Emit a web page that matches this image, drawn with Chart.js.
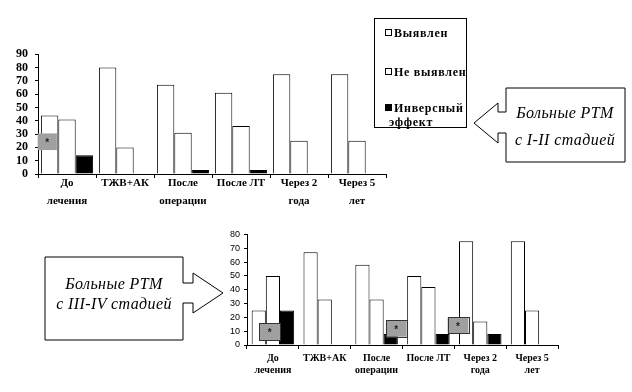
<!DOCTYPE html>
<html>
<head>
<meta charset="utf-8">
<script src="https://cdn.jsdelivr.net/npm/chart.js@4"></script>
<style>
  body { margin: 0; background: #fff; }
  #page { position: relative; width: 632px; height: 392px; overflow: hidden; background: #fff; }
  canvas { position: absolute; }
  #legend { position: absolute; left: 374px; top: 18px; width: 91px; height: 108px; border: 1px solid #000;
            font-family: "Liberation Serif", serif; font-weight: bold; font-size: 12px; letter-spacing: 0.7px; color: #000; }
  #legend .it { position: absolute; left: 10px; white-space: nowrap; line-height: 14px; }
  #legend .sw { display: inline-block; width: 5px; height: 5px; border: 1px solid #000; margin-right: 2px; vertical-align: 1px; }
  svg { position: absolute; left: 0; top: 0; }
</style>
</head>
<body>
<div id="page">
  <canvas id="topChart" width="392" height="172" style="left:0;top:40px"></canvas>
  <canvas id="bottomChart" width="350" height="155" style="left:215px;top:225px"></canvas>

  <div id="legend">
    <div class="it" style="top:7px"><span class="sw" style="background:#fff"></span>Выявлен</div>
    <div class="it" style="top:46px"><span class="sw" style="background:#fff"></span>Не выявлен</div>
    <div class="it" style="top:82px"><span class="sw" style="background:#000"></span>Инверсный</div>
    <div class="it" style="top:96px;left:14px">эффект</div>
  </div>

  <svg width="632" height="392" font-family="Liberation Serif, serif" font-style="italic" font-size="16" letter-spacing="0.4">
    <path d="M506,88 L625,88 L625,162 L506,162 L506,133 L498,133 L498,143 L474,123 L498,103 L498,112 L506,112 Z"
          fill="#fff" stroke="#000" stroke-width="1"/>
    <text x="565" y="118" text-anchor="middle">Больные РТМ</text>
    <text x="565" y="145" text-anchor="middle">с I-II стадией</text>

    <path d="M45,257 L183,257 L183,283 L193,283 L193,273 L223,293 L193,313 L193,303 L183,303 L183,340 L45,340 Z"
          fill="#fff" stroke="#000" stroke-width="1"/>
    <text x="114" y="289" text-anchor="middle">Больные РТМ</text>
    <text x="114" y="309" text-anchor="middle">с III-IV стадией</text>
  </svg>
</div>

<script>
// Categories (time points)
const categories = [["До", "лечения"], "ТЖВ+АК", ["После", "операции"], "После ЛТ", ["Через 2", "года"], ["Через 5", "лет"]];
const seriesNames = ["Выявлен", "Не выявлен", "Инверсный эффект"];

// Patients with stage I-II (%)
const detectedEarly = [44, 80, 67, 61, 75, 75];
const notDetectedEarly = [41, 20, 31, 36, 25, 25];
const inverseEarly = [14, 0, 3, 3, 0, 0];

// Patients with stage III-IV (%)
const detectedLate = [25, 67, 58, 50, 75, 75];
const notDetectedLate = [50, 33, 33, 42, 17, 25];
const inverseLate = [25, 0, 8, 8, 8, 0];

// Significance marks (*): category index and value span
const marksEarly = [{ cat: 0, from: 18, to: 30.5 }];
const marksLate = [{ cat: 0, from: 3.6, to: 15.7 }, { cat: 2, from: 6, to: 18 }, { cat: 4, from: 8.6, to: 20 }];

// draws grey boxes with a star over the bars
const starPlugin = {
  id: "stars",
  afterDatasetsDraw(chart, args, opts) {
    const { ctx, scales } = chart;
    const x = scales.x, y = scales.y;
    const catW = (x.right - x.left) / categories.length;
    opts.marks.forEach((m, i) => {
      const cx = x.getPixelForValue(m.cat) + opts.shifts[i] * catW;
      const w = opts.width * catW;
      const top = y.getPixelForValue(m.to), bot = y.getPixelForValue(m.from);
      ctx.save();
      ctx.fillStyle = "#a0a0a0";
      ctx.fillRect(cx - w / 2, top, w, bot - top);
      if (opts.border) {
        ctx.strokeStyle = "#333";
        ctx.lineWidth = 1;
        ctx.strokeRect(Math.round(cx - w / 2) + 0.5, Math.round(top) + 0.5, Math.round(w), Math.round(bot - top));
      }
      ctx.fillStyle = "#222";
      ctx.font = "bold 10px 'Liberation Sans', sans-serif";
      ctx.textAlign = "center";
      ctx.textBaseline = "middle";
      ctx.fillText("*", cx, (top + bot) / 2 + 2);
      ctx.restore();
    });
  }
};

function makeChart(id, d1, d2, d3, opt) {
  return new Chart(document.getElementById(id), {
    type: "bar",
    data: {
      labels: categories,
      datasets: [
        { label: seriesNames[0], data: d1, backgroundColor: "#fff", borderColor: "#000", borderWidth: 1 },
        { label: seriesNames[1], data: d2, backgroundColor: "#fff", borderColor: "#000", borderWidth: 1 },
        { label: seriesNames[2], data: d3, backgroundColor: "#000", borderColor: "#000", borderWidth: 1 }
      ]
    },
    plugins: [starPlugin],
    options: {
      responsive: false,
      animation: false,
      layout: { padding: opt.padding },
      datasets: { bar: { categoryPercentage: opt.catPct, barPercentage: 1 } },
      plugins: {
        legend: { display: false },
        tooltip: { enabled: false },
        stars: opt.stars
      },
      scales: {
        x: {
          grid: { display: true, drawOnChartArea: false, color: "#000", tickLength: 4, offset: true },
          border: { color: "#000" },
          ticks: { color: "#000", font: opt.xFont, padding: opt.xPad, maxRotation: 0, autoSkip: false },
          afterFit: s => { s.height = opt.xHeight; }
        },
        y: {
          min: 0,
          max: opt.yMax,
          grid: { display: true, drawOnChartArea: false, color: "#000", tickLength: 3 },
          border: { color: "#000" },
          ticks: { stepSize: 10, autoSkip: false, color: "#000", font: opt.yFont, padding: opt.yPad },
          afterFit: s => { s.width = opt.yWidth; }
        }
      }
    }
  });
}

makeChart("topChart", detectedEarly, notDetectedEarly, inverseEarly, {
  padding: { top: 11, right: 6, left: 0, bottom: 0 },
  catPct: 0.9,
  yMax: 90,
  yWidth: 38,
  xHeight: 38,
  xPad: -4,
  yPad: 7,
  xFont: { family: "'Liberation Serif', serif", size: 11, weight: "bold", lineHeight: 1.65 },
  yFont: { family: "'Liberation Serif', serif", size: 12, weight: "bold" },
  stars: { marks: marksEarly, shifts: [-0.34], width: 0.33, border: false }
});

makeChart("bottomChart", detectedLate, notDetectedLate, inverseLate, {
  padding: { top: 8, right: 7, left: 0, bottom: 0 },
  catPct: 0.82,
  yMax: 80,
  yWidth: 32,
  xHeight: 35,
  xPad: 3,
  yPad: 4,
  xFont: { family: "'Liberation Serif', serif", size: 10, weight: "bold", lineHeight: 1.2 },
  yFont: { family: "'Liberation Sans', sans-serif", size: 9 },
  stars: { marks: marksLate, shifts: [-0.06, 0.38, -0.43], width: 0.4, border: true }
});
</script>
</body>
</html>
